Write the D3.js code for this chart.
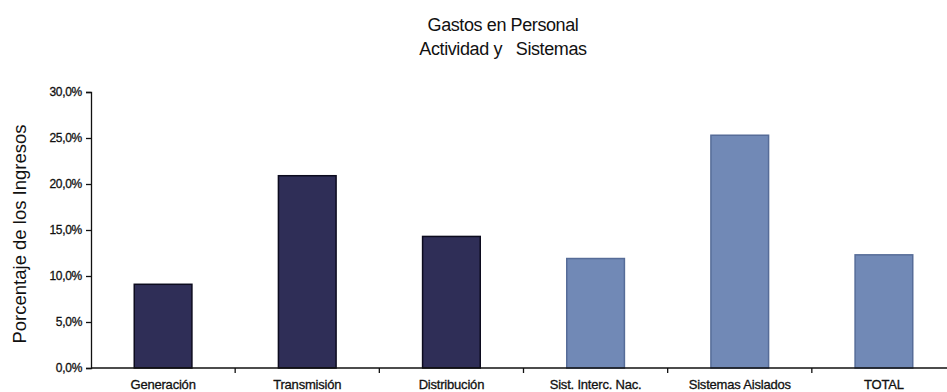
<!DOCTYPE html>
<html>
<head>
<meta charset="utf-8">
<script src="https://cdn.jsdelivr.net/npm/d3@7"></script>
<style>
  html, body { margin: 0; padding: 0; background: #fff; }
  svg { display: block; }
  text { font-family: "Liberation Sans", Arial, sans-serif; fill: #111; }
</style>
</head>
<body>
<svg id="chart" width="947" height="392"></svg>
<script>
// Personnel expense as a share of revenue, by activity and system
const categories = ["Generación", "Transmisión", "Distribución", "Sist. Interc. Nac.", "Sistemas Aislados", "TOTAL"];
const values = [9.1, 20.9, 14.3, 11.9, 25.3, 12.3];
const groups = ["actividad", "actividad", "actividad", "sistema", "sistema", "sistema"];
const yTicks = [0, 5, 10, 15, 20, 25, 30];
const titleLines = ["Gastos en Personal", "Actividad y   Sistemas"];
const yAxisTitle = "Porcentaje de los Ingresos";

const fills = { actividad: "#2f2e57", sistema: "#7189b6" };
const strokes = { actividad: "#0c0b1e", sistema: "#566c98" };
const narrowFont = "'Liberation Sans Narrow', 'Liberation Sans', Arial, sans-serif";

const svg = d3.select("#chart");
const plotLeft = 91, plotRight = 956, plotTop = 92, plotBottom = 368;

const x = d3.scaleBand().domain(categories).range([plotLeft, plotRight])
  .paddingInner(0.6).paddingOuter(0.3);
const y = d3.scaleLinear().domain([0, 30]).range([plotBottom, plotTop]);

// Title
svg.append("g").selectAll("text").data(titleLines).join("text")
  .attr("x", 503).attr("y", (d, i) => 31 + i * 24)
  .attr("text-anchor", "middle")
  .style("font-size", "18px")
  .style("letter-spacing", "-0.4px")
  .style("white-space", "pre")
  .text(d => d);

// Bars
svg.append("g").selectAll("rect").data(categories).join("rect")
  .attr("x", d => x(d))
  .attr("y", (d, i) => y(values[i]))
  .attr("width", x.bandwidth())
  .attr("height", (d, i) => y(0) - y(values[i]))
  .attr("fill", (d, i) => fills[groups[i]])
  .attr("stroke", (d, i) => strokes[groups[i]])
  .attr("stroke-width", 1.5);

// Y axis
const yAxis = d3.axisLeft(y).tickValues(yTicks).tickSize(5).tickPadding(4)
  .tickFormat(d => d3.format(".1f")(d).replace(".", ",") + "%");
const gy = svg.append("g").attr("transform", `translate(${plotLeft},0)`).call(yAxis);
gy.select(".domain").attr("stroke", "#111").attr("stroke-width", 1.3);
gy.selectAll(".tick line").attr("stroke", "#111").attr("stroke-width", 1.3);
gy.selectAll(".tick text")
  .style("font-family", narrowFont)
  .style("font-size", "12px").style("fill", "#111")
  .style("stroke", "#111").style("stroke-width", "0.3px")
  .style("letter-spacing", "-0.3px");

// X axis baseline, boundary ticks and category labels
const gx = svg.append("g").attr("transform", `translate(0,${plotBottom})`);
gx.append("line").attr("x1", plotLeft).attr("x2", plotRight)
  .attr("stroke", "#111").attr("stroke-width", 1.3);
gx.selectAll("line.sep").data(categories.slice(0, -1)).join("line")
  .attr("class", "sep")
  .attr("x1", d => x(d) + x.bandwidth() / 2 + x.step() / 2)
  .attr("x2", d => x(d) + x.bandwidth() / 2 + x.step() / 2)
  .attr("y1", 0).attr("y2", 5)
  .attr("stroke", "#111").attr("stroke-width", 1.3);
gx.selectAll("text").data(categories).join("text")
  .attr("x", d => x(d) + x.bandwidth() / 2)
  .attr("y", 21)
  .attr("text-anchor", "middle")
  .style("font-family", narrowFont)
  .style("font-size", "13px")
  .style("stroke", "#111").style("stroke-width", "0.3px")
  .style("letter-spacing", "-0.2px")
  .text(d => d);

// Y axis title
svg.append("text")
  .attr("transform", "translate(26,234) rotate(-90)")
  .attr("text-anchor", "middle")
  .style("font-size", "18.5px")
  .text(yAxisTitle);
</script>
</body>
</html>
